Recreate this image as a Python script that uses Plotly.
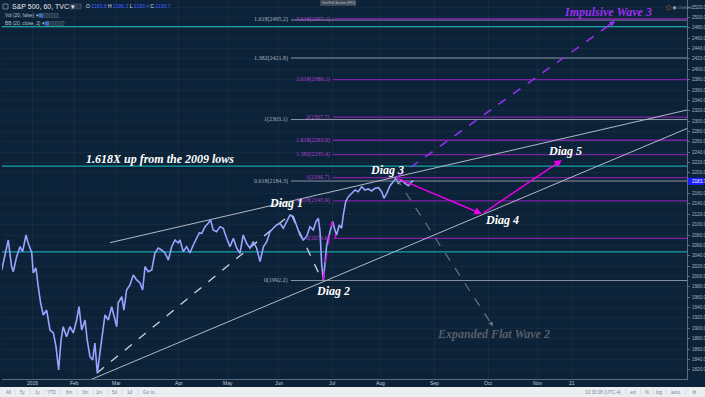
import plotly.graph_objects as go

# ---------------- data ----------------
# S&P 500 hourly chart, sampled: trading-day index (0 = first session of 2016) and price
price_day = [-13.0, -11.0, -10.3, -8.9, -8.2, -6.8, -5.4, -4.3, -2.9, -2.0, -0.5, 0.1, 1.25, 2.2, 3.2,
             4.3, 5.7, 7.1, 8.5, 9.6, 10.7, 11.7, 12.6, 14.0, 15.4, 16.8, 18.2, 19.2, 20.3, 21.7,
             22.6, 23.75, 24.9, 25.8, 26.8, 27.9, 29.0, 30.0, 31.4, 32.8, 34.2, 34.9, 35.5, 37.0,
             37.9, 39.0, 40.4, 41.8, 43.2, 44.6, 45.7, 46.7, 48.0, 49.5, 50.8, 52.2, 53.6, 55.0,
             56.4, 57.8, 59.2, 60.5, 61.25, 62.6, 64.0, 65.4, 66.8, 68.2, 69.3, 70.3, 71.7, 73.0,
             74.0, 75.1, 76.5, 77.9, 79.3, 80.7, 82.1, 83.5, 84.9, 86.25, 87.6, 89.0, 90.4, 91.8,
             93.2, 94.6, 96.0, 97.4, 98.75, 100.1, 101.5, 102.9, 104.3, 105.7, 107.1, 108.5, 109.9,
             111.25, 112.6, 114.0, 115.4, 116.8, 117.9, 118.9, 119.6, 120.3, 121.0, 121.7, 122.4,
             123.75, 124.9, 125.8, 126.5, 127.6, 128.6, 129.3, 130.3, 131.4, 132.8, 134.2, 135.5,
             137.0, 138.3, 139.7, 141.1, 142.5, 143.9, 145.3, 146.25, 147.4, 148.75, 150.1, 151.25,
             152.2, 153.6, 155.0, 156.4, 157.8, 158.5]
price_close = [2012.6, 2055.0, 2070.5, 2019.0, 2009.3, 2038.3, 2057.5, 2048.1, 2080.1, 2064.7, 2045.4,
               2006.8, 2016.4, 1980.3, 1948.8, 1925.7, 1935.3, 1896.7, 1891.0, 1864.5, 1819.5, 1877.4,
               1903.1, 1883.8, 1903.1, 1891.0, 1916.0, 1941.7, 1896.7, 1916.0, 1877.4, 1845.2, 1838.8,
               1871.6, 1813.1, 1852.3, 1896.7, 1925.7, 1916.0, 1941.7, 1916.0, 1903.1, 1948.8, 1961.0,
               1935.3, 1974.0, 1983.6, 2002.9, 1993.3, 1987.5, 1974.0, 2019.0, 2009.3, 2012.6, 2045.4,
               2055.0, 2051.2, 2045.4, 2031.9, 2057.5, 2070.5, 2064.7, 2070.5, 2048.1, 2057.5, 2045.4,
               2060.8, 2074.3, 2084.0, 2083.4, 2096.2, 2102.7, 2109.1, 2089.8, 2086.5, 2096.2, 2093.1,
               2073.8, 2057.5, 2073.8, 2054.5, 2044.8, 2080.1, 2064.1, 2054.5, 2067.2, 2054.5, 2028.6,
               2057.5, 2067.2, 2086.5, 2093.1, 2099.4, 2102.7, 2093.1, 2105.8, 2118.7, 2115.5, 2099.4,
               2080.1, 2070.5, 2076.9, 2096.2, 2089.8, 2105.8, 2112.4, 2086.5, 2022.2, 1993.3, 2022.2,
               2060.8, 2086.5, 2105.8, 2089.8, 2080.1, 2099.4, 2093.1, 2118.7, 2144.4, 2154.1, 2160.6,
               2167.0, 2163.7, 2173.4, 2167.0, 2169.0, 2165.1, 2170.3, 2171.4, 2163.7, 2150.9, 2160.6,
               2175.3, 2183.0, 2189.6, 2179.9, 2186.3, 2179.9, 2175.3, 2183.0, 2184.9]
last_price = 2183.7

month_tick_labels = ["2016", "Feb", "Mar", "Apr", "May", "Jun", "Jul", "Aug", "Sep", "Oct", "Nov", "21"]
month_tick_days = [0, 17.5, 34.6, 60.8, 81.3, 102.5, 124.6, 144.6, 167.1, 189.6, 210.4, 224.6]

price_tick_values = [v for v in range(1820, 2521, 20) if v != 2180]

teal_levels = [2482.3, 2213.0, 2047.5]

grey_fib_ratios = ["0", "0.618", "1", "1.382", "1.618"]
grey_fib_levels = [1992.2, 2184.3, 2303.1, 2421.8, 2495.2]
grey_fib_start_day = 107.5

purple_fib_ratios = ["0", "0.618", "1", "1.382", "1.618", "2", "2.618", "3.618"]
purple_fib_levels = [2073.6, 2145.9, 2190.7, 2235.4, 2263.0, 2307.7, 2380.1, 2497.1]
purple_fib_start_day = 125.0

upper_channel_days = [32.1, 272.5]
upper_channel_prices = [2065.3, 2321.4]
lower_channel_days = [23.75, 272.5]
lower_channel_prices = [1800.2, 2285.7]

count_path_days = [26.7, 107.5, 120.4]
count_path_prices = [1813.7, 2120.7, 1993.3]

retrace_days = [120.8, 124.5, 126.25]
retrace_prices = [1993.3, 2105.8, 2073.6]

diag_days = [151.25, 187.1, 220.4]          # Diag 3 -> Diag 4 -> Diag 5
diag_prices = [2190.7, 2120.7, 2224.9]
wave3_days = [151.25, 242.5]
wave3_prices = [2190.7, 2493.3]
flat2_days = [151.25, 191.7]
flat2_prices = [2190.7, 1903.5]

X_RANGE = [-12.9, 272.5]
Y_RANGE = [1802.1, 2533.8]

# ---------------- styling helpers ----------------
BG = "#0c2238"
PLOT_W, PLOT_H, ML = 685, 379, 2
SANS = "Liberation Sans"
SERIF = "Liberation Serif"


def px_x(x):
    return (x - ML) / PLOT_W


def px_y(y):
    return (PLOT_H - y) / PLOT_H


fig = go.Figure()

# teal horizontal levels
for lv in teal_levels:
    fig.add_shape(type="line", xref="paper", yref="y", x0=0, x1=1, y0=lv, y1=lv,
                  line=dict(color="#17a2aa", width=1.2), layer="below")

# fib lines
for r, lv in zip(grey_fib_ratios, grey_fib_levels):
    fig.add_trace(go.Scatter(x=[grey_fib_start_day, X_RANGE[1]], y=[lv, lv], mode="lines",
                             line=dict(color="#8a93a6", width=1), hoverinfo="skip"))
    fig.add_annotation(x=grey_fib_start_day, y=lv, text=f"{r}({lv:.1f})", showarrow=False,
                       xanchor="right", yanchor="middle", xshift=-1,
                       font=dict(family=SERIF, size=6, color="#a7aebd"))
for r, lv in zip(purple_fib_ratios, purple_fib_levels):
    fig.add_trace(go.Scatter(x=[purple_fib_start_day, X_RANGE[1]], y=[lv, lv], mode="lines",
                             line=dict(color="#7d22a8", width=1.3), hoverinfo="skip"))
    fig.add_annotation(x=purple_fib_start_day, y=lv, text=f"{r}({lv:.1f})", showarrow=False,
                       xanchor="right", yanchor="middle", xshift=-1,
                       font=dict(family=SERIF, size=6, color="#b23fd6"))

# channel lines
fig.add_trace(go.Scatter(x=upper_channel_days, y=upper_channel_prices, mode="lines",
                         line=dict(color="#b3b9c4", width=1), hoverinfo="skip"))
fig.add_trace(go.Scatter(x=lower_channel_days, y=lower_channel_prices, mode="lines",
                         line=dict(color="#b3b9c4", width=1), hoverinfo="skip"))

# dashed count path
fig.add_trace(go.Scatter(x=count_path_days, y=count_path_prices, mode="lines",
                         line=dict(color="#cfd5de", width=1.3, dash="dash"), hoverinfo="skip"))

# price
fig.add_trace(go.Scatter(x=price_day, y=price_close, mode="lines",
                         line=dict(color="#9aa3ff", width=1.6), hoverinfo="skip"))

# magenta retrace
fig.add_trace(go.Scatter(x=retrace_days, y=retrace_prices, mode="lines",
                         line=dict(color="#e000e0", width=1.4, dash="dash"), hoverinfo="skip"))

# projection: impulsive wave 3 (dashed violet)
fig.add_trace(go.Scatter(x=wave3_days, y=wave3_prices, mode="lines",
                         line=dict(color="#9b30f5", width=1.5, dash="dash"), hoverinfo="skip"))
# projection: expanded flat (dashed grey)
fig.add_trace(go.Scatter(x=flat2_days, y=flat2_prices, mode="lines",
                         line=dict(color="#6a717b", width=1.2, dash="dash"), hoverinfo="skip"))


def head(days, prices, color, width):
    # small arrowhead at the end of a dashed line
    x1, y1 = days[-1], prices[-1]
    x0, y0 = days[-2], prices[-2]
    fig.add_annotation(x=x1, y=y1, ax=x1 - 0.04 * (x1 - x0), ay=y1 - 0.04 * (y1 - y0),
                       axref="x", ayref="y", xref="x", yref="y", text="", showarrow=True,
                       arrowhead=2, arrowsize=0.8, arrowwidth=width, arrowcolor=color, standoff=0)


head(wave3_days, wave3_prices, "#9b30f5", 1.4)
head(flat2_days, flat2_prices, "#6a717b", 1.2)

# magenta diag arrows
for i in range(1, len(diag_days)):
    fig.add_annotation(x=diag_days[i], y=diag_prices[i], ax=diag_days[i - 1], ay=diag_prices[i - 1],
                       axref="x", ayref="y", xref="x", yref="y", text="", showarrow=True,
                       arrowhead=2, arrowsize=1, arrowwidth=1.5, arrowcolor="#e800e8", standoff=0)


def label(x, y, txt, color="white", size=12):
    fig.add_annotation(x=x, y=y, xref="x", yref="y", text=f"<b><i>{txt}</i></b>", showarrow=False,
                       xanchor="center", yanchor="middle",
                       font=dict(family=SERIF, size=size, color=color))


label(52.9, 2226.0, "1.618X up from the 2009 lows")
label(105.4, 2142.0, "Diag 1")
label(125.0, 1972.0, "Diag 2")
label(147.5, 2205.6, "Diag 3")
label(195.4, 2109.1, "Diag 4")
label(221.7, 2242.3, "Diag 5")
label(239.6, 2511.0, "Impulsive Wave 3", color="#9b30f0")
label(191.7, 1889.0, "Expanded Flat Wave 2", color="#585e68")

# axis tick labels (drawn as text so they sit exactly where TradingView puts them)
for d, t in zip(month_tick_days, month_tick_labels):
    fig.add_annotation(x=d, xref="x", yref="paper", y=px_y(383), text=t, showarrow=False,
                       xanchor="center", yanchor="middle",
                       font=dict(family=SANS, size=5, color="#c3c9d2"))
for v in price_tick_values:
    fig.add_annotation(x=px_x(690), xref="paper", yref="y", y=v, text=f"{v:.1f}", showarrow=False,
                       xanchor="left", yanchor="middle",
                       font=dict(family=SANS, size=4.6, color="#aab2bd"))

# last price marker on the axis
fig.add_shape(type="rect", xref="paper", yref="y", x0=px_x(688), x1=px_x(704), y0=last_price - 7.0,
              y1=last_price + 7.0, fillcolor="#1c1cff", line=dict(width=0), layer="above")
fig.add_annotation(xref="paper", yref="y", x=px_x(690), y=last_price, text=f"{last_price:.1f}",
                   showarrow=False, xanchor="left", yanchor="middle",
                   font=dict(family=SANS, size=4.6, color="white"))

# header legend
fig.add_shape(type="rect", xref="paper", yref="paper", x0=px_x(3), x1=px_x(8), y0=px_y(9), y1=px_y(4),
              line=dict(color="#8c95a3", width=0.8))
fig.add_annotation(xref="paper", yref="paper", x=px_x(10), y=px_y(6.5), xanchor="left", yanchor="middle",
                   text="S&P 500, 60, TVC ▾", showarrow=False,
                   font=dict(family=SANS, size=7, color="#e6e9ee"))
for bx in (70, 76):
    fig.add_shape(type="rect", xref="paper", yref="paper", x0=px_x(bx), x1=px_x(bx + 5),
                  y0=px_y(9), y1=px_y(4), line=dict(color="#55606e", width=0.6), fillcolor="#24364a")
ohlc_val = "<span style='color:#3f5cff'>{}</span>"
fig.add_annotation(xref="paper", yref="paper", x=px_x(84), y=px_y(6.5), xanchor="left", yanchor="middle",
                   text="O " + ohlc_val.format("2183.8") + " H " + ohlc_val.format("2186.3") + " L "
                        + ohlc_val.format("2183.4") + " C " + ohlc_val.format("2183.7"),
                   showarrow=False, font=dict(family=SANS, size=5, color="#dde2ea"))
fig.add_annotation(xref="paper", yref="paper", x=px_x(3), y=px_y(15.5), xanchor="left", yanchor="middle",
                   text="Vol (20, false) ▾", showarrow=False,
                   font=dict(family=SANS, size=4.8, color="#b9c0cb"))
fig.add_annotation(xref="paper", yref="paper", x=px_x(3), y=px_y(23.5), xanchor="left", yanchor="middle",
                   text="BB (20, close, 2) ▾", showarrow=False,
                   font=dict(family=SANS, size=4.8, color="#b9c0cb"))
for row_y, x_start in ((15.5, 39), (23.5, 45)):
    for k in range(4):
        fig.add_shape(type="rect", xref="paper", yref="paper", x0=px_x(x_start + 5 * k),
                      x1=px_x(x_start + 5 * k + 4), y0=px_y(row_y + 2), y1=px_y(row_y - 2),
                      line=dict(color="#5a6676", width=0.5),
                      fillcolor="#2f6fd6" if k == 0 else "#24364a")

# top centre tag
fig.add_shape(type="rect", xref="paper", yref="paper", x0=px_x(320), x1=px_x(356), y0=px_y(6), y1=px_y(0),
              fillcolor="#3a4757", line=dict(width=0))
fig.add_annotation(xref="paper", yref="paper", x=px_x(338), y=px_y(3), text="Get Full Screen (F11)",
                   showarrow=False, xanchor="center", yanchor="middle",
                   font=dict(family=SANS, size=3.5, color="#c8ced6"))

# top right "closed"
fig.add_annotation(xref="paper", yref="paper", x=px_x(664), y=px_y(7.5), xanchor="left", yanchor="middle",
                   text="<span style='color:#f08a1c'>◯</span> ● closed", showarrow=False,
                   font=dict(family="DejaVu Sans", size=4.5, color="#8c95a3"))

# bottom toolbar
fig.add_shape(type="rect", xref="paper", yref="paper", x0=px_x(0), x1=px_x(705), y0=px_y(397), y1=px_y(387),
              fillcolor="#eceff2", line=dict(width=0), layer="above")
left_btns = [("All", 8), ("5y", 23), ("1y", 38), ("YTD", 52), ("6m", 69), ("3m", 85), ("1m", 100),
             ("5d", 115), ("1d", 130), ("Go to...", 150)]
right_btns = [("10:30:08 (UTC-4)", 603), ("ext", 633), ("%", 647), ("log", 659), ("auto", 675), ("⚙", 695)]
for txt, x in left_btns + right_btns:
    fig.add_annotation(xref="paper", yref="paper", x=px_x(x), y=px_y(392), text=txt, showarrow=False,
                       xanchor="center", yanchor="middle",
                       font=dict(family=SANS, size=4.6, color="#80868e"))
for x in (15, 30, 45, 60, 77, 93, 108, 122, 138, 626, 641, 653, 666, 686):
    fig.add_shape(type="line", xref="paper", yref="paper", x0=px_x(x), x1=px_x(x), y0=px_y(395),
                  y1=px_y(389), line=dict(color="#cdd2d8", width=0.6), layer="above")

fig.update_layout(
    width=705, height=397,
    margin=dict(l=ML, r=18, t=0, b=18),
    paper_bgcolor=BG, plot_bgcolor=BG,
    showlegend=False,
    xaxis=dict(range=X_RANGE, tickmode="array", tickvals=month_tick_days, showticklabels=False,
               showgrid=True, gridcolor="rgba(255,255,255,0.045)", zeroline=False,
               showline=True, linecolor="#5d6b7b", linewidth=1, ticks=""),
    yaxis=dict(range=Y_RANGE, side="right", tickmode="array", tickvals=price_tick_values,
               showticklabels=False, showgrid=True, gridcolor="rgba(255,255,255,0.04)", zeroline=False,
               showline=True, linecolor="#5d6b7b", linewidth=1, ticks="outside", ticklen=2,
               tickcolor="#5d6b7b"),
)

fig.write_html("out.html", config={"displayModeBar": False},
               post_script="document.body.style.margin='0';document.body.style.overflow='hidden';")
